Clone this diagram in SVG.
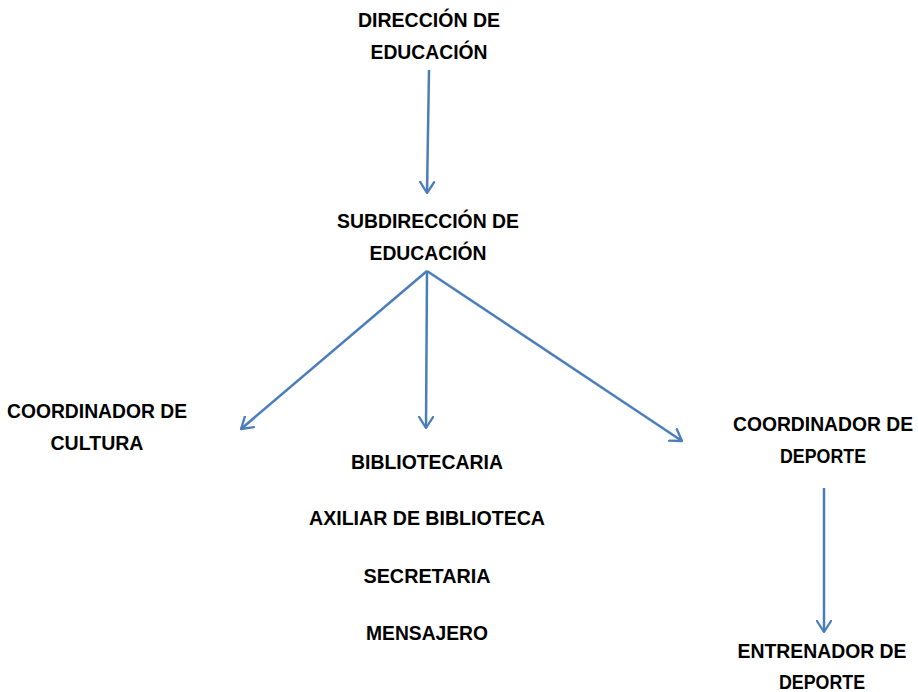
<svg xmlns="http://www.w3.org/2000/svg" width="918" height="692" viewBox="0 0 918 692">
<defs>
<style>
text{font-family:"Liberation Sans Narrow","Liberation Sans",Arial,sans-serif;font-weight:bold;font-size:21px;fill:#000;text-anchor:middle}
.c{stroke:#4A7EBB;stroke-width:2.5;fill:none}
</style>
<marker id="ah" viewBox="0 0 13 16" markerWidth="13" markerHeight="16" refX="12" refY="8" orient="auto" markerUnits="userSpaceOnUse">
<path d="M1,1 L12,8 L1,15" fill="none" stroke="#4A7EBB" stroke-width="2.3" stroke-linecap="round" stroke-linejoin="round"/>
</marker>
</defs>
<rect width="918" height="692" fill="#fff"/>
<g id="connectors">
<line class="c" x1="429" y1="70" x2="427" y2="193" marker-end="url(#ah)"/>
<line class="c" x1="427" y1="271" x2="241" y2="429" marker-end="url(#ah)"/>
<line class="c" x1="427" y1="271" x2="426" y2="428" marker-end="url(#ah)"/>
<line class="c" x1="427" y1="271" x2="682" y2="441" marker-end="url(#ah)"/>
<line class="c" x1="824" y1="488" x2="824" y2="632" marker-end="url(#ah)"/>
</g>
<g id="direccion">
<text x="429" y="27" textLength="142" lengthAdjust="spacingAndGlyphs">DIRECCIÓN DE</text>
<text x="429" y="59" textLength="117" lengthAdjust="spacingAndGlyphs">EDUCACIÓN</text>
</g>
<g id="subdireccion">
<text x="428" y="228" textLength="182" lengthAdjust="spacingAndGlyphs">SUBDIRECCIÓN DE</text>
<text x="428" y="260" textLength="117" lengthAdjust="spacingAndGlyphs">EDUCACIÓN</text>
</g>
<g id="cultura">
<text x="97" y="418" textLength="180" lengthAdjust="spacingAndGlyphs">COORDINADOR DE</text>
<text x="97" y="450" textLength="93" lengthAdjust="spacingAndGlyphs">CULTURA</text>
</g>
<g id="biblioteca">
<text x="427" y="469" textLength="152" lengthAdjust="spacingAndGlyphs">BIBLIOTECARIA</text>
<text x="427" y="525" textLength="236" lengthAdjust="spacingAndGlyphs">AXILIAR DE BIBLIOTECA</text>
<text x="427" y="583" textLength="127" lengthAdjust="spacingAndGlyphs">SECRETARIA</text>
<text x="427" y="640" textLength="122" lengthAdjust="spacingAndGlyphs">MENSAJERO</text>
</g>
<g id="deporte" transform="translate(823,0) scale(0.85,1)">
<text x="0" y="431" textLength="211.8" lengthAdjust="spacingAndGlyphs">COORDINADOR DE</text>
<text x="0" y="463" textLength="101.2" lengthAdjust="spacingAndGlyphs">DEPORTE</text>
</g>
<g id="entrenador" transform="translate(822,0) scale(0.85,1)">
<text x="0" y="658" textLength="198.8" lengthAdjust="spacingAndGlyphs">ENTRENADOR DE</text>
<text x="0" y="689" textLength="101.2" lengthAdjust="spacingAndGlyphs">DEPORTE</text>
</g>
</svg>
